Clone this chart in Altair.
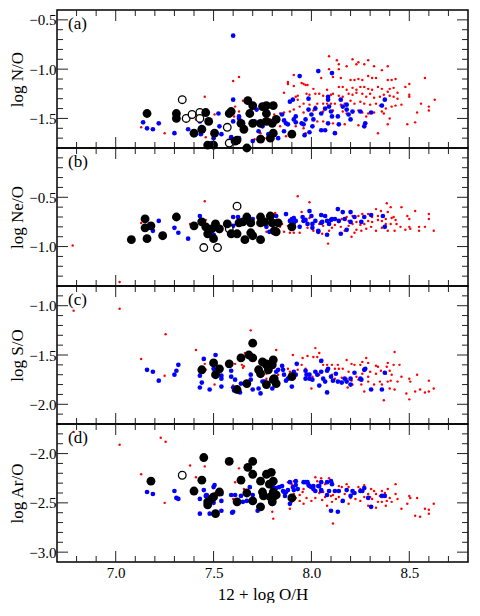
import altair as alt
import pandas as pd

# ---------------- axes / ticks ----------------
X_DOMAIN = [6.7, 8.8]
X_LABELS = [7.0, 7.5, 8.0, 8.5]
X_MINOR = [6.8, 6.9, 7.1, 7.2, 7.3, 7.4, 7.6, 7.7, 7.8, 7.9, 8.1, 8.2, 8.3, 8.4, 8.6, 8.7]

# ---------------- panel (a) log N/O ----------------
NO_black = [(7.16,-1.45),(7.31,-1.45),(7.31,-1.50),(7.46,-1.44),(7.475,-1.53),(7.44,-1.61),(7.40,-1.65),
            (7.505,-1.65),(7.47,-1.77),(7.50,-1.77),(7.58,-1.45),(7.59,-1.43),(7.61,-1.73),(7.64,-1.55),
            (7.655,-1.61),(7.67,-1.80),(7.675,-1.32),(7.70,-1.37),(7.685,-1.45),(7.70,-1.55),(7.75,-1.38),
            (7.77,-1.37),(7.805,-1.37),(7.77,-1.45),(7.74,-1.55),(7.77,-1.53),(7.80,-1.55),(7.82,-1.51),
            (7.805,-1.65),(7.79,-1.70),(7.74,-1.71),(7.62,-1.72),(7.90,-1.66)]
NO_open = [(7.34,-1.31),(7.36,-1.50),(7.39,-1.46),(7.43,-1.44),(7.43,-1.50),(7.57,-1.59),(7.58,-1.75)]
NO_blue = [(7.14,-1.54),(7.16,-1.60),(7.19,-1.61),(7.22,-1.55),(7.30,-1.65),(7.37,-1.61),(7.43,-1.53),
           (7.435,-1.66),(7.525,-1.45),(7.53,-1.58),(7.54,-1.66),(7.50,-1.70),(7.49,-1.75),(7.60,-0.66),
           (7.60,-1.31),(7.60,-1.53),(7.63,-1.70),(7.63,-1.50),(7.59,-1.69),(7.72,-1.41),(7.73,-1.63),
           (7.75,-1.58),(7.71,-1.53),(7.83,-1.70),(7.85,-1.46),(7.86,-1.52),(7.89,-1.33),(7.905,-1.31),
           (7.94,-1.07),(8.035,-1.02),(7.985,-1.41),(8.00,-1.46),(8.02,-1.40),(8.005,-1.58),(7.965,-1.67),
           (7.92,-1.48),(7.95,-1.55),(7.91,-1.51),(8.105,-1.04),(8.085,-1.28),(8.085,-1.31),(7.985,-1.30),
           (7.87,-1.55),(7.88,-1.56),(7.86,-1.63),(7.78,-1.66),(7.70,-1.73),(7.63,-1.48),(7.92,-1.54),
           (7.96,-1.56),(7.97,-1.51),(7.99,-1.64),(8.01,-1.51),(8.05,-1.45),(8.05,-1.62),(8.07,-1.62),
           (8.085,-1.55),(8.07,-1.40),(8.09,-1.38),(8.10,-1.43),(8.105,-1.48),(8.135,-1.48),(8.14,-1.56),
           (8.15,-1.31),(8.12,-1.65),(8.16,-1.38),(8.18,-1.36),(8.18,-1.41),(8.20,-1.51),(8.21,-1.43),
           (8.25,-1.43),(8.27,-1.58),(8.275,-1.55),(8.305,-1.44),(8.36,-1.37),(8.375,-1.31),(8.19,-1.46)]
NO_red = [(8.09,-0.87),(8.13,-0.91),(8.14,-0.95),(8.21,-0.90),(8.24,-0.93),(8.29,-0.91),(8.18,-0.97),
          (8.23,-0.95),(8.27,-0.95),(8.32,-0.97),(8.36,-1.01),(8.39,-0.97),(8.14,-1.00),(8.09,-1.00),
          (8.05,-1.09),(8.11,-1.08),(8.15,-1.09),(8.20,-1.11),(8.24,-1.10),(8.22,-1.11),(8.26,-1.11),
          (8.29,-1.07),(8.31,-1.09),(8.33,-1.09),(8.39,-1.11),(8.41,-1.11),(8.43,-1.10),(8.50,-1.15),
          (8.58,-1.09),(7.91,-1.06),(7.88,-1.13),(7.91,-1.17),(7.96,-1.15),(7.97,-1.16),(8.01,-1.20),
          (8.08,-1.21),(8.10,-1.26),(8.14,-1.18),(8.16,-1.18),(8.18,-1.21),(8.21,-1.19),(8.23,-1.21),
          (8.25,-1.18),(8.27,-1.18),(8.29,-1.20),(8.31,-1.21),(8.34,-1.18),(8.36,-1.20),(8.39,-1.23),
          (8.40,-1.20),(8.42,-1.19),(8.44,-1.24),(8.48,-1.18),(8.50,-1.26),(8.50,-1.28),(7.86,-1.24),
          (7.92,-1.28),(7.93,-1.31),(7.99,-1.26),(8.02,-1.25),(8.04,-1.25),(8.06,-1.27),(8.11,-1.25),
          (8.14,-1.27),(8.16,-1.28),(8.19,-1.25),(8.21,-1.26),(8.23,-1.24),(8.26,-1.25),(8.28,-1.28),
          (8.30,-1.25),(8.32,-1.29),(8.35,-1.28),(8.37,-1.26),(8.40,-1.27),(8.42,-1.28),(8.44,-1.30),
          (8.63,-1.31),(8.56,-1.35),(8.60,-1.38),(8.60,-1.42),(8.46,-1.36),(8.43,-1.37),(8.41,-1.38),
          (8.38,-1.40),(8.35,-1.37),(8.33,-1.35),(8.30,-1.36),(8.27,-1.35),(8.25,-1.33),(8.22,-1.35),
          (8.20,-1.32),(8.17,-1.35),(8.15,-1.36),(8.12,-1.35),(8.10,-1.35),(8.08,-1.35),(8.06,-1.35),
          (8.03,-1.35),(8.02,-1.38),(7.99,-1.36),(7.96,-1.35),(7.94,-1.38),(7.91,-1.41),(7.89,-1.43),
          (7.86,-1.44),(7.84,-1.45),(7.81,-1.46),(7.96,-1.44),(8.01,-1.42),(8.06,-1.43),(8.11,-1.42),
          (8.16,-1.43),(8.18,-1.45),(8.21,-1.44),(8.24,-1.42),(8.26,-1.44),(8.29,-1.45),(8.32,-1.44),
          (8.36,-1.43),(8.37,-1.45),(8.40,-1.50),(8.39,-1.56),(8.34,-1.65),(8.24,-1.57),(8.28,-1.48),
          (8.54,-1.44),(8.53,-1.54),(8.49,-1.56),(8.17,-1.56),(8.11,-1.55),(8.06,-1.53),(8.03,-1.53),
          (8.01,-1.51),(7.96,-1.60),(7.97,-1.65),(7.87,-1.68),(7.92,-1.58),(7.84,-1.58),(7.74,-1.65),
          (7.71,-1.71),(7.76,-1.70),(7.13,-1.59),(7.25,-1.65),(7.455,-1.28),(7.41,-1.51),(7.505,-1.46),
          (7.46,-1.69),(7.60,-1.12),(7.63,-1.08),(7.65,-1.32),(7.63,-1.43),(7.88,-1.15),(7.95,-1.14),
          (7.98,-1.16),(7.93,-1.27),(7.975,-1.25),(7.79,-1.51),(7.61,-1.38),(7.605,-1.48)]

# ---------------- panel (b) log Ne/O ----------------
NeO_black = [(7.08,-0.93),(7.15,-0.72),(7.15,-0.81),(7.18,-0.79),(7.16,-0.92),(7.24,-0.89),(7.31,-0.70),
             (7.40,-0.79),(7.44,-0.75),(7.46,-0.80),(7.47,-0.87),(7.50,-0.92),(7.51,-0.80),(7.49,-0.82),
             (7.57,-0.77),(7.51,-0.77),(7.53,-0.82),(7.59,-0.87),(7.62,-0.87),(7.63,-0.76),(7.65,-0.75),
             (7.67,-0.70),(7.69,-0.76),(7.69,-0.86),(7.70,-0.89),(7.66,-0.93),(7.74,-0.70),(7.74,-0.76),
             (7.74,-0.93),(7.76,-0.75),(7.79,-0.69),(7.80,-0.76),(7.81,-0.84),(7.83,-0.76),(7.82,-0.85),
             (7.90,-0.80)]
NeO_open = [(7.45,-1.01),(7.52,-1.01),(7.62,-0.59),(7.58,-0.82)]
NeO_blue = [(7.22,-0.74),(7.19,-0.84),(7.30,-0.81),(7.32,-0.86),(7.37,-0.92),(7.43,-0.69),(7.43,-0.74),
            (7.47,-0.82),(7.50,-0.77),(7.50,-0.88),(7.53,-0.84),(7.60,-0.70),(7.60,-0.79),(7.625,-0.70),
            (7.70,-0.72),(7.77,-0.80),(7.785,-0.85),(7.82,-0.69),(7.87,-0.67),(7.89,-0.74),(7.90,-0.72),
            (7.91,-0.76),(7.94,-0.80),(7.955,-0.70),(7.97,-0.73),(7.99,-0.64),(7.98,-0.77),(8.005,-0.77),
            (8.02,-0.74),(8.035,-0.84),(8.05,-0.76),(7.91,-0.71),(7.92,-0.74),(7.96,-0.74),(8.00,-0.69),
            (8.005,-0.81),(8.05,-0.68),(8.07,-0.69),(8.055,-0.75),(8.08,-0.74),(8.10,-0.73),(8.09,-0.77),
            (8.035,-0.85),(8.08,-0.88),(8.105,-0.72),(8.135,-0.62),(8.16,-0.65),(8.20,-0.65),(8.15,-0.87),
            (8.18,-0.83),(8.12,-0.72),(8.14,-0.74),(8.17,-0.72),(8.20,-0.75),(8.22,-0.70),(8.255,-0.75),
            (8.27,-0.70),(8.305,-0.68),(8.365,-0.69),(8.375,-0.80)]
NeO_red = [(7.93,-0.49),(7.99,-0.55),(8.46,-0.60),(8.385,-0.56),(8.53,-0.64),(8.60,-0.67),(8.33,-0.62),
           (8.355,-0.64),(8.405,-0.60),(8.39,-0.65),(8.42,-0.70),(8.43,-0.73),(8.435,-0.77),(8.405,-0.77),
           (8.38,-0.77),(8.36,-0.74),(8.34,-0.73),(8.31,-0.75),(8.29,-0.74),(8.27,-0.77),(8.25,-0.78),
           (8.23,-0.75),(8.21,-0.77),(8.19,-0.79),(8.18,-0.70),(8.21,-0.69),(8.24,-0.69),(8.26,-0.67),
           (8.29,-0.67),(8.31,-0.70),(8.34,-0.69),(8.38,-0.72),(8.41,-0.71),(8.49,-0.69),(8.50,-0.72),
           (8.50,-0.80),(8.48,-0.83),(8.505,-0.82),(8.55,-0.80),(8.58,-0.80),(8.60,-0.72),(8.625,-0.84),
           (8.55,-0.84),(8.455,-0.80),(8.425,-0.84),(8.39,-0.84),(8.36,-0.81),(8.33,-0.84),(8.305,-0.80),
           (8.28,-0.82),(8.255,-0.84),(8.23,-0.83),(8.205,-0.90),(8.22,-0.86),(8.17,-0.84),(8.15,-0.80),
           (8.12,-0.78),(8.105,-0.81),(8.09,-0.84),(8.085,-0.97),(8.06,-0.79),(8.04,-0.77),(8.02,-0.74),
           (7.99,-0.71),(7.955,-0.74),(7.94,-0.79),(7.94,-0.86),(7.905,-0.76),(7.88,-0.79),(7.86,-0.85),
           (7.85,-0.77),(7.81,-0.67),(7.82,-0.73),(7.91,-0.70),(7.95,-0.65),(8.055,-0.87),(8.01,-0.84),
           (7.98,-0.81),(8.14,-0.75),(8.19,-0.74),(8.155,-0.72),(6.78,-0.99),(7.02,-1.36),(7.13,-0.76),
           (7.455,-0.54),(7.38,-0.77),(7.46,-0.73),(7.505,-0.88),(7.815,-0.66),(7.82,-0.69),(7.77,-0.85),
           (7.89,-0.86),(7.91,-0.86),(7.84,-0.80)]

# ---------------- panel (c) log S/O ----------------
SO_black = [(7.44,-1.65),(7.50,-1.58),(7.53,-1.64),(7.51,-1.70),(7.58,-1.59),(7.64,-1.53),(7.62,-1.85),
            (7.68,-1.50),(7.70,-1.38),(7.70,-1.53),(7.67,-1.79),(7.75,-1.57),(7.73,-1.65),(7.74,-1.69),
            (7.77,-1.60),(7.78,-1.65),(7.80,-1.60),(7.805,-1.55),(7.77,-1.80),(7.805,-1.75),(7.82,-1.79),
            (7.90,-1.72),(7.81,-1.74),(7.77,-1.59)]
SO_open = []
SO_blue = [(7.16,-1.65),(7.19,-1.67),(7.22,-1.76),(7.30,-1.70),(7.31,-1.66),(7.32,-1.60),(7.43,-1.71),
           (7.44,-1.78),(7.43,-1.83),(7.45,-1.54),(7.48,-1.85),(7.50,-1.64),(7.51,-1.50),(7.52,-1.69),
           (7.54,-1.71),(7.54,-1.74),(7.54,-1.82),(7.59,-1.66),(7.59,-1.72),(7.60,-1.83),(7.61,-1.75),
           (7.64,-1.79),(7.605,-1.86),(7.69,-1.70),(7.69,-1.75),(7.70,-1.85),(7.73,-1.84),(7.74,-1.89),
           (7.75,-1.77),(7.76,-1.77),(7.80,-1.84),(7.85,-1.61),(7.87,-1.76),(7.90,-1.82),(7.88,-1.74),
           (7.92,-1.70),(7.925,-1.59),(7.97,-1.74),(7.975,-1.70),(8.005,-1.75),(8.03,-1.70),(8.05,-1.56),
           (7.635,-1.88),(7.83,-1.65),(7.82,-1.67),(7.855,-1.65),(7.86,-1.70),(7.91,-1.67),(7.97,-1.66),
           (7.99,-1.74),(8.02,-1.67),(8.05,-1.67),(8.06,-1.74),(8.07,-1.77),(8.085,-1.64),(8.08,-1.66),
           (8.04,-1.81),(8.08,-1.88),(8.10,-1.72),(8.11,-1.76),(8.135,-1.77),(8.155,-1.78),(8.18,-1.77),
           (8.20,-1.74),(8.20,-1.80),(8.125,-1.69),(8.17,-1.74),(8.22,-1.68),(8.25,-1.74),(8.255,-1.75),
           (8.27,-1.65),(8.275,-1.64),(8.305,-1.85),(8.36,-1.85),(8.375,-1.68),(7.99,-1.70)]
SO_red = [(6.785,-1.05),(7.02,-1.03),(7.13,-1.54),(7.255,-1.29),(7.25,-1.71),(7.41,-1.45),(7.455,-1.59),
          (7.46,-1.65),(7.505,-1.80),(7.60,-1.81),(7.69,-1.25),(7.82,-1.45),(7.645,-1.60),(7.655,-1.615),
          (7.65,-1.63),(7.66,-1.48),(7.61,-1.59),(7.77,-1.74),(8.02,-1.43),(8.04,-1.48),(7.905,-1.50),
          (7.955,-1.53),(7.98,-1.51),(8.01,-1.52),(8.03,-1.52),(8.055,-1.55),(8.06,-1.60),(8.08,-1.60),
          (8.105,-1.60),(8.135,-1.60),(8.12,-1.64),(8.14,-1.64),(8.16,-1.64),(8.18,-1.55),(8.205,-1.59),
          (8.22,-1.60),(8.25,-1.60),(8.26,-1.57),(8.29,-1.58),(8.28,-1.53),(8.33,-1.61),(8.34,-1.62),
          (8.39,-1.58),(8.425,-1.47),(8.42,-1.60),(8.45,-1.60),(8.30,-1.67),(8.33,-1.69),(8.355,-1.66),
          (8.38,-1.69),(8.40,-1.66),(8.41,-1.70),(8.46,-1.72),(8.505,-1.77),(8.50,-1.74),(8.54,-1.70),
          (8.60,-1.76),(8.625,-1.84),(8.60,-1.87),(8.58,-1.88),(8.555,-1.85),(8.53,-1.87),(8.485,-1.89),
          (8.50,-1.95),(8.37,-1.96),(8.40,-1.84),(8.425,-1.85),(8.39,-1.77),(8.405,-1.76),(8.35,-1.77),
          (8.36,-1.80),(8.32,-1.80),(8.29,-1.77),(8.255,-1.80),(8.23,-1.72),(8.24,-1.75),(8.18,-1.74),
          (8.205,-1.76),(8.21,-1.80),(8.155,-1.73),(8.15,-1.77),(8.12,-1.74),(8.105,-1.70),(8.08,-1.66),
          (8.04,-1.70),(8.005,-1.72),(7.97,-1.64),(7.95,-1.60),(7.93,-1.65),(7.89,-1.67),(7.88,-1.64),
          (7.855,-1.62),(7.83,-1.70),(7.81,-1.74),(7.77,-1.69),(8.00,-1.84),(8.185,-1.83),(8.27,-1.87),
          (8.44,-1.77),(8.385,-1.62),(8.19,-1.67),(8.26,-1.69),(8.29,-1.72)]

# ---------------- panel (d) log Ar/O ----------------
ArO_black = [(7.18,-2.28),(7.40,-2.38),(7.44,-2.27),(7.45,-2.04),(7.53,-2.39),(7.50,-2.44),(7.49,-2.46),
             (7.47,-2.49),(7.47,-2.52),(7.51,-2.61),(7.58,-2.08),(7.64,-2.27),(7.62,-2.49),(7.67,-2.40),
             (7.675,-2.14),(7.70,-2.08),(7.70,-2.21),(7.70,-2.48),(7.74,-2.28),(7.75,-2.39),(7.755,-2.43),
             (7.74,-2.54),(7.77,-2.21),(7.795,-2.19),(7.785,-2.31),(7.805,-2.28),(7.805,-2.39),(7.81,-2.43),
             (7.82,-2.42),(7.80,-2.49),(7.90,-2.45),(7.79,-2.44)]
ArO_open = [(7.34,-2.22)]
ArO_blue = [(7.16,-2.39),(7.19,-2.41),(7.30,-2.38),(7.31,-2.45),(7.32,-2.46),(7.43,-2.46),(7.43,-2.61),
            (7.45,-2.37),(7.46,-2.43),(7.48,-2.61),(7.50,-2.34),(7.505,-2.32),(7.50,-2.50),(7.54,-2.48),
            (7.54,-2.58),(7.59,-2.42),(7.60,-2.59),(7.465,-2.42),(7.54,-2.41),(7.595,-2.60),(7.61,-2.42),
            (7.64,-2.43),(7.65,-2.49),(7.685,-2.34),(7.70,-2.42),(7.73,-2.54),(7.74,-2.56),(7.77,-2.44),
            (7.80,-2.51),(7.805,-2.34),(7.82,-2.35),(7.835,-2.34),(7.85,-2.33),(7.855,-2.38),(7.87,-2.39),
            (7.865,-2.43),(7.89,-2.29),(7.905,-2.34),(7.89,-2.51),(7.92,-2.28),(7.93,-2.36),(7.97,-2.29),
            (7.985,-2.32),(8.00,-2.34),(8.01,-2.36),(8.02,-2.38),(8.035,-2.33),(8.05,-2.38),(7.67,-2.48),
            (7.725,-2.58),(7.80,-2.36),(7.86,-2.39),(7.88,-2.37),(7.91,-2.37),(7.92,-2.32),(7.96,-2.29),
            (7.98,-2.29),(7.99,-2.33),(8.01,-2.33),(8.04,-2.33),(8.05,-2.29),(8.05,-2.37),(8.08,-2.29),
            (8.09,-2.38),(8.10,-2.28),(8.105,-2.31),(8.08,-2.42),(8.10,-2.58),(8.135,-2.59),(8.12,-2.38),
            (8.14,-2.38),(8.16,-2.48),(8.18,-2.37),(8.20,-2.43),(8.21,-2.38),(8.22,-2.40),(8.25,-2.38),
            (8.26,-2.38),(8.27,-2.35),(8.305,-2.54),(8.29,-2.45),(8.36,-2.43),(8.375,-2.43)]
ArO_red = [(6.785,-1.78),(7.02,-1.91),(7.13,-2.21),(7.23,-1.84),(7.255,-1.88),(7.25,-2.50),(7.38,-2.12),
           (7.41,-2.24),(7.455,-2.13),(7.46,-2.41),(7.505,-2.40),(7.60,-2.46),(7.63,-2.15),(7.61,-2.29),
           (7.655,-2.36),(7.69,-2.35),(7.80,-2.59),(7.805,-2.66),(7.89,-2.56),(7.91,-2.28),(7.88,-2.29),
           (7.90,-2.31),(7.91,-2.41),(7.92,-2.45),(7.94,-2.42),(7.955,-2.39),(7.96,-2.36),(7.975,-2.45),
           (8.00,-2.48),(8.02,-2.45),(8.02,-2.24),(8.03,-2.28),(8.05,-2.25),(8.07,-2.31),(8.09,-2.25),
           (8.06,-2.39),(8.04,-2.40),(8.055,-2.47),(8.08,-2.53),(8.07,-2.44),(8.10,-2.43),(8.11,-2.42),
           (8.125,-2.46),(8.14,-2.44),(8.11,-2.71),(8.14,-2.33),(8.155,-2.34),(8.18,-2.31),(8.19,-2.34),
           (8.17,-2.41),(8.20,-2.45),(8.21,-2.41),(8.225,-2.46),(8.24,-2.34),(8.25,-2.36),(8.27,-2.32),
           (8.25,-2.48),(8.27,-2.44),(8.29,-2.41),(8.305,-2.36),(8.32,-2.38),(8.33,-2.41),(8.35,-2.43),
           (8.36,-2.38),(8.375,-2.40),(8.39,-2.36),(8.385,-2.48),(8.40,-2.45),(8.41,-2.49),(8.43,-2.31),
           (8.43,-2.41),(8.44,-2.46),(8.36,-2.49),(8.34,-2.49),(8.31,-2.46),(8.30,-2.44),(8.29,-2.53),
           (8.33,-2.55),(8.38,-2.53),(8.46,-2.56),(8.50,-2.43),(8.505,-2.45),(8.49,-2.51),(8.54,-2.45),
           (8.53,-2.63),(8.555,-2.64),(8.58,-2.56),(8.60,-2.57),(8.625,-2.51),(8.60,-2.61),(8.19,-2.51),
           (8.155,-2.49),(8.105,-2.49),(7.96,-2.51),(7.94,-2.48),(7.90,-2.49)]

PANELS = [
    dict(tag="(a)", title="log N/O", domain=[-1.8, -0.4], major=[-1.5, -1.0, -0.5],
         minor=[-1.7, -1.6, -1.4, -1.3, -1.2, -1.1, -0.9, -0.8, -0.7, -0.6],
         red=NO_red, blue=NO_blue, open=NO_open, black=NO_black),
    dict(tag="(b)", title="log Ne/O", domain=[-1.4, 0.0], major=[-1.0, -0.5],
         minor=[-1.3, -1.2, -1.1, -0.9, -0.8, -0.7, -0.6, -0.4, -0.3, -0.2, -0.1],
         red=NeO_red, blue=NeO_blue, open=NeO_open, black=NeO_black),
    dict(tag="(c)", title="log S/O", domain=[-2.2, -0.8], major=[-2.0, -1.5, -1.0],
         minor=[-2.1, -1.9, -1.8, -1.7, -1.6, -1.4, -1.3, -1.2, -1.1, -0.9],
         red=SO_red, blue=SO_blue, open=SO_open, black=SO_black),
    dict(tag="(d)", title="log Ar/O", domain=[-3.1, -1.7], major=[-3.0, -2.5, -2.0],
         minor=[-2.9, -2.8, -2.7, -2.6, -2.4, -2.3, -2.2, -2.1, -1.9, -1.8],
         red=ArO_red, blue=ArO_blue, open=ArO_open, black=ArO_black),
]

W, H = 411, 138
FONT = "Liberation Serif"
MAJ, MIN = 11, 6


def pts(pairs):
    return pd.DataFrame(pairs, columns=["x", "y"])


def make_panel(p, bottom):
    xscale = alt.Scale(domain=X_DOMAIN, nice=False, zero=False)
    yscale = alt.Scale(domain=p["domain"], nice=False, zero=False)
    if bottom:
        X = alt.X("x:Q", scale=xscale, title="12 + log O/H",
                  axis=alt.Axis(values=X_LABELS, format=".1f", labelPadding=3,
                                titlePadding=6, labelFlush=False))
    else:
        X = alt.X("x:Q", scale=xscale, axis=None)
    Y = alt.Y("y:Q", scale=yscale, title=p["title"],
              axis=alt.Axis(values=p["major"], format=".1f", labelPadding=1,
                            titlePadding=2, labelFlush=False))

    layers = []
    layers.append(alt.Chart(pts(p["red"])).mark_circle(size=6, color="#ff0000", opacity=1)
                  .encode(x=X, y=Y))
    layers.append(alt.Chart(pts(p["blue"])).mark_circle(size=22, color="#0000ff", opacity=1)
                  .encode(x=X, y=Y))
    if p["open"]:
        layers.append(alt.Chart(pts(p["open"])).mark_point(shape="circle", size=58, fill="white",
                                                         fillOpacity=1, stroke="black",
                                                         strokeWidth=1.3, opacity=1)
                      .encode(x=X, y=Y))
    layers.append(alt.Chart(pts(p["black"])).mark_circle(size=78, color="black", opacity=1)
                  .encode(x=X, y=Y))

    # inward ticks
    def xt(vals, length):
        base = alt.Chart(pd.DataFrame({"x": vals})).mark_rule(color="#222222", strokeWidth=1)
        return [base.encode(x=X, y=alt.value(H), y2=alt.value(H - length)),
                base.encode(x=X, y=alt.value(0), y2=alt.value(length))]

    def yt(vals, length):
        base = alt.Chart(pd.DataFrame({"y": vals})).mark_rule(color="#222222", strokeWidth=1)
        return [base.encode(y=Y, x=alt.value(0), x2=alt.value(length)),
                base.encode(y=Y, x=alt.value(W), x2=alt.value(W - length))]

    layers += xt(X_LABELS, MAJ) + xt(X_MINOR, MIN) + yt(p["major"], MAJ) + yt(p["minor"], MIN)

    layers.append(alt.Chart(pd.DataFrame({"t": [p["tag"]]}))
                  .mark_text(align="left", baseline="alphabetic", font=FONT, fontSize=17,
                             color="black")
                  .encode(text="t:N", x=alt.value(11), y=alt.value(19)))

    return alt.layer(*layers).properties(width=W, height=H)


charts = [make_panel(p, i == len(PANELS) - 1) for i, p in enumerate(PANELS)]

chart = (
    alt.vconcat(*charts, spacing=0, bounds="flush")
    .properties(padding={"left": 0, "top": 0, "right": 0, "bottom": 0})
    .configure_view(stroke="black", strokeWidth=1.5)
    .configure_axis(labelFont=FONT, labelFontSize=15, titleFont=FONT, titleFontSize=17,
                    titleFontWeight="normal", labelColor="black", titleColor="black",
                    grid=False, domain=False, ticks=False, tickSize=0)
)

chart.save("out.html", embed_options={"renderer": "svg", "actions": False})
